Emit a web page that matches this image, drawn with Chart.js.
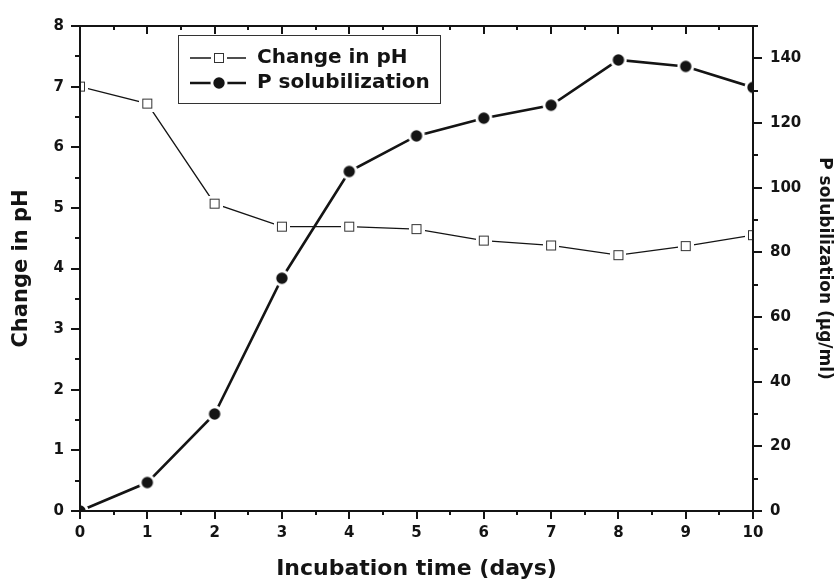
<!DOCTYPE html>
<html>
<head>
<meta charset="utf-8">
<script src="https://cdn.jsdelivr.net/npm/chart.js@4.4.1/dist/chart.umd.min.js"></script>
<style>
  html, body { margin: 0; padding: 0; background: #fff; }
  #wrap { width: 838px; height: 585px; }
</style>
</head>
<body>
<div id="wrap"><canvas id="chart"></canvas></div>
<script>
// values
var days = [0, 1, 2, 3, 4, 5, 6, 7, 8, 9, 10];
var phValues = [7.0, 6.72, 5.07, 4.69, 4.69, 4.65, 4.46, 4.38, 4.22, 4.37, 4.55];
var pSolValues = [0, 8.8, 30, 72, 105, 116, 121.5, 125.5, 139.5, 137.5, 131];
var seriesLabels = ['Change in pH', 'P solubilization'];
var axisTitles = ['Incubation time (days)', 'Change in pH', 'P solubilization (\u03bcg/ml)'];

var INK = '#141414';
Chart.defaults.font.family = "'DejaVu Sans', sans-serif";
Chart.defaults.font.weight = 'bold';
Chart.defaults.color = INK;

// markers with a white halo so the line stops short of them
function squareMarker() {
    var c = document.createElement('canvas');
    c.width = 16; c.height = 16;
    var g = c.getContext('2d');
    g.fillStyle = '#fff';
    g.fillRect(0, 0, 16, 16);
    g.strokeStyle = '#333';
    g.lineWidth = 1;
    g.strokeRect(3.5, 3.5, 9, 9);
    return c;
}
function circleMarker() {
    var c = document.createElement('canvas');
    c.width = 18; c.height = 18;
    var g = c.getContext('2d');
    g.fillStyle = '#fff';
    g.beginPath(); g.arc(9, 9, 8.5, 0, Math.PI * 2); g.fill();
    g.fillStyle = INK;
    g.beginPath(); g.arc(9, 9, 5.7, 0, Math.PI * 2); g.fill();
    return c;
}
var sqImg = squareMarker();
var ciImg = circleMarker();

function toPoints(ys) {
    return days.map(function(d, i) { return {x: d, y: ys[i]}; });
}

// clip the series to the plot box, then draw frame, ticks and the boxed legend
var framePlugin = {
    id: 'frame',
    beforeDatasetsDraw: function(chart) {
        var ctx = chart.ctx, a = chart.chartArea;
        ctx.save();
        ctx.beginPath();
        ctx.rect(a.left, a.top, a.right - a.left, a.bottom - a.top);
        ctx.clip();
    },
    afterDatasetsDraw: function(chart) {
        var ctx = chart.ctx, a = chart.chartArea;
        ctx.restore();
        var sx = chart.scales.x, sy = chart.scales.y, sy1 = chart.scales.y1;
        ctx.save();
        ctx.strokeStyle = INK;
        ctx.lineWidth = 2;
        ctx.strokeRect(a.left, a.top, a.right - a.left, a.bottom - a.top);
        ctx.beginPath();
        sx.ticks.forEach(function(t) {
            var px = Math.round(sx.getPixelForValue(t.value));
            var len = t.label !== '' ? 8 : 4;
            ctx.moveTo(px, a.bottom); ctx.lineTo(px, a.bottom + len);
            ctx.moveTo(px, a.top); ctx.lineTo(px, a.top + len);
        });
        sy.ticks.forEach(function(t) {
            var py = Math.round(sy.getPixelForValue(t.value));
            var len = t.label !== '' ? 9 : 5;
            ctx.moveTo(a.left, py); ctx.lineTo(a.left - len, py);
        });
        sy1.ticks.forEach(function(t) {
            var py = Math.round(sy1.getPixelForValue(t.value));
            var len = t.label !== '' ? 9 : 5;
            ctx.moveTo(a.right, py); ctx.lineTo(a.right + len, py);
        });
        ctx.stroke();

        // legend
        var lx = 178.5, ly = 35.5, lw = 262, lh = 68;
        ctx.fillStyle = '#fff';
        ctx.fillRect(lx, ly, lw, lh);
        ctx.lineWidth = 1;
        ctx.strokeStyle = '#333';
        ctx.strokeRect(lx, ly, lw, lh);
        var rows = [58, 83];
        ctx.strokeStyle = INK;
        ctx.lineWidth = 1.3;
        ctx.beginPath(); ctx.moveTo(190, rows[0]); ctx.lineTo(246, rows[0]); ctx.stroke();
        ctx.lineWidth = 2.6;
        ctx.beginPath(); ctx.moveTo(190, rows[1]); ctx.lineTo(246, rows[1]); ctx.stroke();
        ctx.drawImage(sqImg, 219 - 8, rows[0] - 8);
        ctx.drawImage(ciImg, 219 - 9, rows[1] - 9);
        ctx.fillStyle = INK;
        ctx.font = "bold 20px 'DejaVu Sans', sans-serif";
        ctx.textBaseline = 'middle';
        ctx.textAlign = 'left';
        ctx.fillText(seriesLabels[0], 257, rows[0]);
        ctx.fillText(seriesLabels[1], 257, rows[1]);
        ctx.restore();
    }
};

new Chart(document.getElementById('chart'), {
    type: 'line',
    data: {
        datasets: [{
            label: seriesLabels[0],
            data: toPoints(phValues),
            yAxisID: 'y',
            borderColor: INK,
            borderWidth: 1.3,
            pointStyle: sqImg,
            pointRadius: 8,
            clip: false,
            fill: false
        }, {
            label: seriesLabels[1],
            data: toPoints(pSolValues),
            yAxisID: 'y1',
            borderColor: INK,
            borderWidth: 2.6,
            pointStyle: ciImg,
            pointRadius: 9,
            clip: false,
            fill: false
        }]
    },
    options: {
        responsive: true,
        maintainAspectRatio: false,
        animation: false,
        events: [],
        layout: { padding: { top: 21, left: 0, right: 0, bottom: 0 } },
        plugins: {
            legend: { display: false },
            tooltip: { enabled: false }
        },
        scales: {
            x: {
                type: 'linear',
                position: 'bottom',
                min: 0,
                max: 10,
                grid: { display: false, drawTicks: false },
                border: { display: false },
                ticks: {
                    stepSize: 0.5,
                    autoSkip: false,
                    maxRotation: 0,
                    padding: 13,
                    font: { size: 15 },
                    callback: function(v) { return Number.isInteger(v) ? v : ''; }
                },
                title: { display: true, text: axisTitles[0], font: { size: 22 }, padding: { top: 0, bottom: 3 } },
                afterFit: function(s) { s.height = 74; }
            },
            y: {
                position: 'left',
                min: 0,
                max: 8,
                grid: { display: false, drawTicks: false },
                border: { display: false },
                ticks: {
                    stepSize: 0.5,
                    autoSkip: false,
                    padding: 16,
                    font: { size: 15 },
                    callback: function(v) { return Number.isInteger(v) ? v : ''; }
                },
                title: { display: true, text: axisTitles[1], font: { size: 21 }, padding: { top: 9, bottom: 0 } },
                afterFit: function(s) { s.width = 80; }
            },
            y1: {
                position: 'right',
                min: 0,
                max: 150,
                grid: { display: false, drawTicks: false },
                border: { display: false },
                ticks: {
                    stepSize: 10,
                    autoSkip: false,
                    padding: 17,
                    font: { size: 15 },
                    callback: function(v) { return v % 20 === 0 ? v : ''; }
                },
                title: { display: true, text: axisTitles[2], font: { size: 17 }, padding: { top: 3, bottom: 0 } },
                afterFit: function(s) { s.width = 85; }
            }
        }
    },
    plugins: [framePlugin]
});
</script>
</body>
</html>
